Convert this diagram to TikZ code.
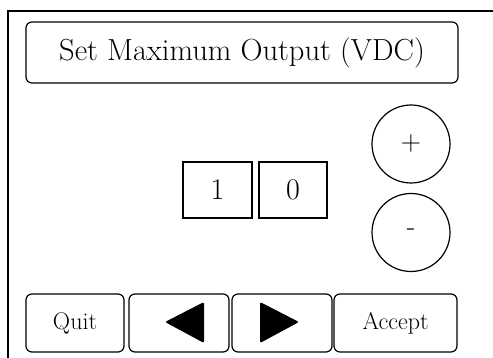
\documentclass[tikz,border=0pt]{standalone}
\usetikzlibrary{positioning}
\def\frameline{(8,11) rectangle (520,380)}
\tikzset{
  panel/.style={draw,line width=1.2pt,rounded corners=6pt,inner sep=0pt},
  digitbox/.style={draw,line width=1.2pt,inner sep=0pt,minimum width=68pt,minimum height=56pt,font=\fontsize{30}{36}\selectfont},
  keycircle/.style={draw,circle,line width=1.2pt,inner sep=0pt,minimum size=78pt,font=\fontsize{28}{32}\selectfont},
  softkey/.style={panel,minimum height=58pt,font=\fontsize{24}{28}\selectfont}
}
\begin{document}
\begin{tikzpicture}[x=1pt,y=-1pt]
  \useasboundingbox (0,0) rectangle (493,358);
  \clip (0,0) rectangle (493,358);
  \draw[line width=1.5pt] \frameline;
  \node[panel,minimum width=432pt,minimum height=61pt,font=\fontsize{30.5}{36}\selectfont] (title) at (242,52.5) {Set Maximum Output (VDC)};
  % value digits
  \node[digitbox,minimum width=69pt] (d1) at (217.5,190) {1};
  \node[digitbox] (d2) at (293,190) {0};
  % up / down
  \node[keycircle] (plus) at (411,144) {+};
  \node[keycircle] (minus) at (411,232.5) {-};
  % bottom row
  \node[softkey,minimum width=98pt] (quit) at (75,323) {Quit};
  \node[softkey,minimum width=100pt] (left) at (179,323) {};
  \node[softkey,minimum width=100pt] (right) at (282,323) {};
  \node[softkey,minimum width=123pt] (accept) at (395.5,323) {Accept};
  \fill[rounded corners=2pt] (165,322) -- (204,302) -- (204,343) -- cycle;
  \fill[rounded corners=2pt] (299,322) -- (260,302) -- (260,343) -- cycle;
\end{tikzpicture}
\end{document}
